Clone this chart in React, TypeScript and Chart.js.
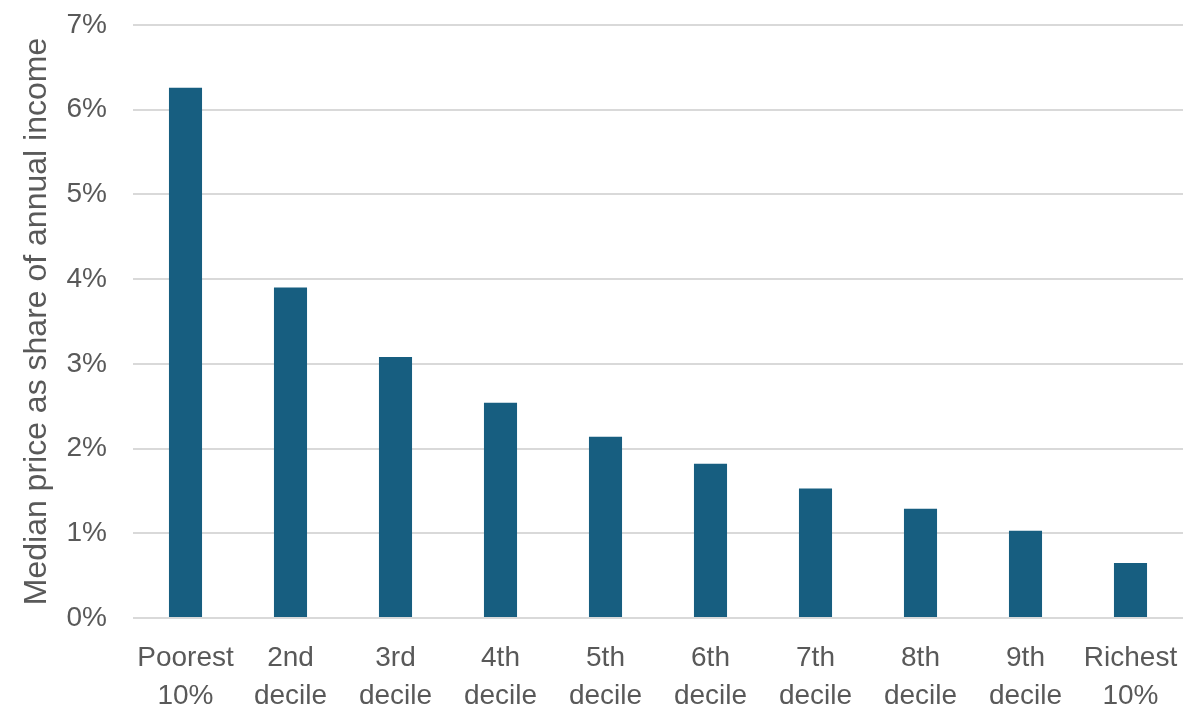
import { useEffect, useRef } from "react";
import { Chart, registerables, ChartConfiguration } from "chart.js";

Chart.register(...registerables);

const categories: string[][] = [
  ["Poorest", "10%"],
  ["2nd", "decile"],
  ["3rd", "decile"],
  ["4th", "decile"],
  ["5th", "decile"],
  ["6th", "decile"],
  ["7th", "decile"],
  ["8th", "decile"],
  ["9th", "decile"],
  ["Richest", "10%"],
];
const medianShare = [6.26, 3.9, 3.08, 2.54, 2.14, 1.82, 1.53, 1.29, 1.03, 0.65];
const yTitle = "Median price as share of annual income";

const textColor = "#595959";
const barColor = "#175E80";
const font = "'Liberation Sans', Arial, sans-serif";

const App = () => {
  const canvasRef = useRef<HTMLCanvasElement>(null);

  useEffect(() => {
    if (!canvasRef.current) return;
    const ctx = canvasRef.current.getContext("2d");
    if (!ctx) return;

    const config: ChartConfiguration<"bar"> = {
      type: "bar",
      data: {
        labels: categories,
        datasets: [
          {
            data: medianShare,
            backgroundColor: barColor,
            borderWidth: 0,
            barPercentage: 0.315,
            categoryPercentage: 1,
          },
        ],
      },
      options: {
        responsive: false,
        animation: false,
        layout: { padding: { top: 25, right: 17, left: 0, bottom: 0 } },
        plugins: {
          legend: { display: false },
          tooltip: { enabled: false },
        },
        scales: {
          x: {
            grid: { display: false },
            border: { display: false },
            ticks: {
              color: textColor,
              font: { family: font, size: 28, lineHeight: 1.33 },
              padding: 14,
              maxRotation: 0,
              autoSkip: false,
            },
            afterFit: (scale) => {
              scale.height = 99;
            },
          },
          y: {
            min: 0,
            max: 7,
            border: { display: false },
            grid: { color: "#D9D9D9", lineWidth: 2, drawTicks: false },
            ticks: {
              stepSize: 1,
              color: textColor,
              font: { family: font, size: 28 },
              padding: 26,
              callback: (v) => `${v}%`,
            },
            title: {
              display: true,
              text: yTitle,
              color: textColor,
              font: { family: font, size: 32 },
              padding: { top: 18, bottom: 0 },
            },
            afterFit: (scale) => {
              scale.width = 133;
              scale.paddingTop = 0;
              scale.paddingBottom = 0;
            },
          },
        },
      },
    };

    const chart = new Chart(ctx, config);
    return () => {
      chart.destroy();
    };
  }, []);

  return (
    <div style={{ position: "absolute", left: 0, top: 0, width: 1200, height: 717, background: "#fff" }}>
      <canvas ref={canvasRef} width={1200} height={717} />
    </div>
  );
};

export default App;
